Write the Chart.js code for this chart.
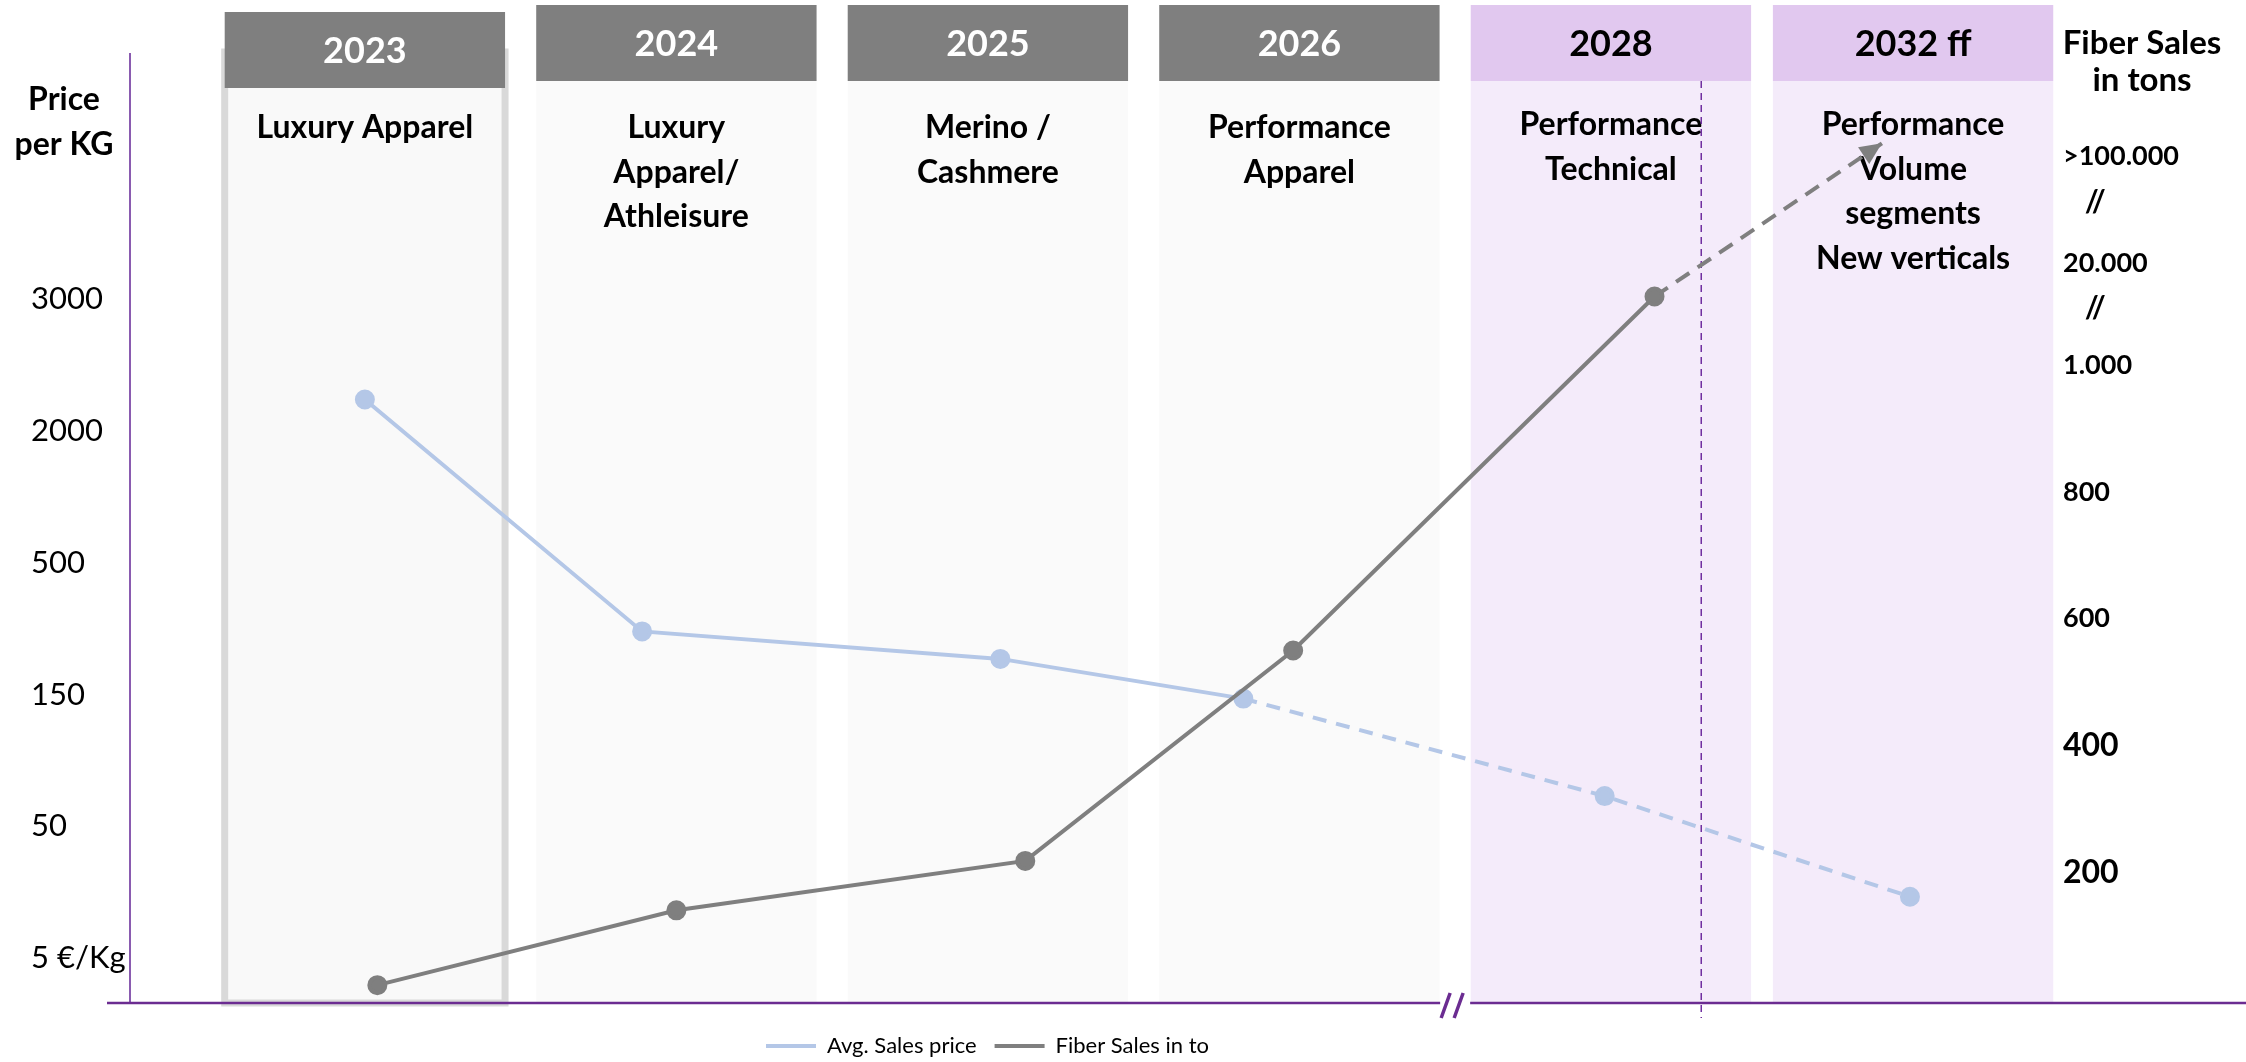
<!DOCTYPE html>
<html>
<head>
<meta charset="utf-8">
<script src="https://cdn.jsdelivr.net/npm/chart.js@4.4.0/dist/chart.umd.min.js"></script>
<style>
  html, body { margin: 0; padding: 0; background: #fff; }
  #wrap { width: 2246px; height: 1062px; }
</style>
</head>
<body>
<div id="wrap"><canvas id="chart"></canvas></div>
<script>
// columns along the time line
const years = ["2023", "2024", "2025", "2026", "2028", "2032 ff"];
const segments = [
  ["Luxury Apparel"],
  ["Luxury", "Apparel/", "Athleisure"],
  ["Merino /", "Cashmere"],
  ["Performance", "Apparel"],
  ["Performance", "Technical"],
  ["Performance", "Volume", "segments", "New verticals"],
];
const isOutlook = [false, false, false, false, true, true];

// left axis: price per kg (labels are evenly spaced, not linear)
const priceTickValues = [5, 50, 150, 500, 2000, 3000];
const priceTickLabels = ["5 €/Kg", "50", "150", "500", "2000", "3000"];
const priceX = [0, 0.89, 2.04, 2.82, 3.98, 4.96];
const priceValues = [2240, 318, 245, 147, 73, 26];

// right axis: fiber sales in tons (broken above 1.000)
const fiberTickValues = [200, 400, 600, 800, 1000, 11600, 20000, 66000, 100000];
const fiberTickLabels = ["200", "400", "600", "800", "1.000", "   //", "20.000", "   //", ">100.000"];
const fiberX = [0.04, 1.0, 2.12, 2.98, 4.14, 4.87];
const fiberValues = [22, 140, 218, 550, 13800, 110000];

const columnPos = [0, 1, 2, 3, 4, 4.97];
const todayPos = 4.29;
const axisBreakPos = 3.5;

const FONT = "Lato";
const PURPLE = "#6B2C91";

function interp(v, pts) {
  let i = 0;
  while (i < pts.length - 2 && v > pts[i + 1][0]) i++;
  const [a, pa] = pts[i], [b, pb] = pts[i + 1];
  return pa + (v - a) / (b - a) * (pb - pa);
}
const priceToAxis = (v) => interp(v, priceTickValues.map((t, i) => [t, i]));
const fiberBreaks = [[0, 0], [1000, 1000], [20000, 1161], [100000, 1329]];
const fiberToAxis = (v) => interp(v, fiberBreaks);

function fiberTickSize(i) {
  const label = fiberTickLabels[i] || "";
  if (i <= 1) return 32;
  return label.trim() === "//" ? 30 : 27;
}

const columnsPlugin = {
  id: "columns",
  beforeDatasetsDraw(chart) {
    const { ctx, chartArea, scales: { x } } = chart;
    ctx.save();
    years.forEach((year, i) => {
      const left = x.getPixelForValue(columnPos[i] - 0.45);
      const right = x.getPixelForValue(columnPos[i] + 0.45);
      const w = right - left;
      const headTop = i === 0 ? 12 : 5;
      const headH = 76;
      if (i === 0) {
        ctx.fillStyle = "#F9F9F9";
        ctx.fillRect(left, 52, w, chartArea.bottom - 52);
        ctx.strokeStyle = "#D9D9D9";
        ctx.lineWidth = 7;
        ctx.strokeRect(left, 52, w, chartArea.bottom - 52);
      } else {
        ctx.fillStyle = isOutlook[i] ? "#F4EBFA" : "#FAFAFA";
        ctx.fillRect(left, headTop + headH, w, chartArea.bottom - headTop - headH);
      }
      ctx.fillStyle = isOutlook[i] ? "#E1C8EF" : "#7F7F7F";
      ctx.fillRect(left, headTop, w, headH);

      const cx = (left + right) / 2;
      ctx.textAlign = "center";
      ctx.textBaseline = "middle";
      ctx.fillStyle = isOutlook[i] ? "#000" : "#fff";
      ctx.font = `bold 36px ${FONT}`;
      ctx.fillText(year, cx, headTop + headH / 2 + 1);

      ctx.fillStyle = "#000";
      ctx.font = `bold 32px ${FONT}`;
      const top = isOutlook[i] ? 125 : 128;
      segments[i].forEach((line, j) => ctx.fillText(line, cx, top + j * 44.5));
    });

    // vertical marker line inside 2028
    const tx = x.getPixelForValue(todayPos);
    ctx.strokeStyle = "#7030A0";
    ctx.lineWidth = 1.5;
    ctx.setLineDash([7, 5]);
    ctx.beginPath();
    ctx.moveTo(tx, 81);
    ctx.lineTo(tx, chartArea.bottom + 15);
    ctx.stroke();
    ctx.setLineDash([]);

    // bottom axis with break
    const bx = x.getPixelForValue(axisBreakPos);
    const by = chartArea.bottom;
    ctx.strokeStyle = PURPLE;
    ctx.lineWidth = 2.5;
    ctx.beginPath();
    ctx.moveTo(107, by);
    ctx.lineTo(bx - 15, by);
    ctx.moveTo(bx + 15, by);
    ctx.lineTo(chart.width, by);
    ctx.stroke();
    ctx.lineWidth = 3.5;
    ctx.beginPath();
    ctx.moveTo(bx - 14, by + 15);
    ctx.lineTo(bx - 5, by - 10);
    ctx.moveTo(bx - 1, by + 15);
    ctx.lineTo(bx + 8, by - 10);
    ctx.stroke();
    ctx.restore();
  },
  afterDatasetsDraw(chart) {
    // arrow head at the end of the fiber outlook
    const meta = chart.getDatasetMeta(1);
    const n = meta.data.length;
    const p1 = meta.data[n - 2], p2 = meta.data[n - 1];
    const a = Math.atan2(p2.y - p1.y, p2.x - p1.x);
    const { ctx } = chart;
    ctx.save();
    ctx.translate(p2.x, p2.y);
    ctx.rotate(a);
    ctx.fillStyle = "#7F7F7F";
    ctx.beginPath();
    ctx.moveTo(0, 0);
    ctx.lineTo(-22, -10);
    ctx.lineTo(-22, 10);
    ctx.closePath();
    ctx.fill();
    ctx.restore();
  },
  afterDraw(chart) {
    const { ctx } = chart;
    ctx.save();
    ctx.fillStyle = "#000";
    ctx.textAlign = "center";
    ctx.textBaseline = "middle";
    ctx.font = `bold 32px ${FONT}`;
    ctx.fillText("Price", 64, 100);
    ctx.fillText("per KG", 64, 145);
    ctx.font = `bold 33px ${FONT}`;
    ctx.fillText("Fiber Sales", 2142, 43);
    ctx.fillText("in tons", 2142, 80);
    ctx.restore();
  },
  afterLayout(chart) {
    // put the legend under the left part of the time line
    const lg = chart.legend;
    const pad = lg.options.labels.padding;
    const startX = (lg.left + pad + lg.right - lg.lineWidths[0]) / 2;
    const dx = 766 - startX;
    lg.left += dx;
    lg.right += dx;
    const dy = 1046 - (lg.top + pad + 11);
    lg.top += dy;
    lg.bottom += dy;
  },
};

new Chart(document.getElementById("chart"), {
  type: "line",
  plugins: [columnsPlugin],
  data: {
    datasets: [
      {
        label: "Avg. Sales price",
        data: priceValues.map((v, i) => ({ x: priceX[i], y: priceToAxis(v) })),
        yAxisID: "y",
        order: 1,
        borderColor: "#B4C7E7",
        backgroundColor: "#B4C7E7",
        borderWidth: 4,
        pointRadius: 8,
        pointHoverRadius: 8,
        segment: {
          borderDash: (ctx) => (ctx.p0DataIndex >= 3 ? [14, 10] : undefined),
        },
      },
      {
        label: "Fiber Sales in to",
        data: fiberValues.map((v, i) => ({ x: fiberX[i], y: fiberToAxis(v) })),
        yAxisID: "y1",
        order: 0,
        borderColor: "#7F7F7F",
        backgroundColor: "#7F7F7F",
        borderWidth: 4,
        pointRadius: (ctx) => (ctx.dataIndex === fiberValues.length - 1 ? 0 : 8),
        pointHoverRadius: 8,
        segment: {
          borderDash: (ctx) => (ctx.p0DataIndex >= 4 ? [16, 10] : undefined),
        },
      },
    ],
  },
  options: {
    responsive: true,
    maintainAspectRatio: false,
    animation: false,
    layout: { padding: { left: 31, top: 54, right: 0, bottom: 9 } },
    plugins: {
      tooltip: { enabled: false },
      legend: {
        position: "bottom",
        labels: {
          usePointStyle: true,
          pointStyle: "line",
          pointStyleWidth: 50,
          padding: 18,
          color: "#000",
          font: { family: FONT, size: 22 },
          sort: (a, b) => a.datasetIndex - b.datasetIndex,
        },
      },
    },
    scales: {
      x: { type: "linear", display: false, min: -0.754, max: 5.416 },
      y: {
        position: "left",
        min: -0.34,
        max: 6.862,
        afterBuildTicks: (s) => { s.ticks = priceTickValues.map((_, i) => ({ value: i })); },
        afterFit: (s) => { s.width = 99; },
        ticks: {
          callback: (v, i) => priceTickLabels[i],
          crossAlign: "far",
          autoSkip: false,
          color: "#000",
          font: { family: FONT, size: 31 },
        },
        grid: { display: false, drawTicks: false },
        border: { color: "#8A5BB0", width: 2 },
      },
      y1: {
        position: "right",
        min: -6.2,
        max: 1491,
        afterBuildTicks: (s) => { s.ticks = fiberTickValues.map((v) => ({ value: fiberToAxis(v) })); },
        afterFit: (s) => { s.width = 194; },
        ticks: {
          callback: (v, i) => fiberTickLabels[i],
          crossAlign: "near",
          padding: 11,
          autoSkip: false,
          color: "#000",
          font: (ctx) => ({ family: FONT, weight: "bold", size: fiberTickSize(ctx.index) }),
        },
        grid: { display: false, drawTicks: false },
        border: { display: false },
      },
    },
  },
});
</script>
</body>
</html>
